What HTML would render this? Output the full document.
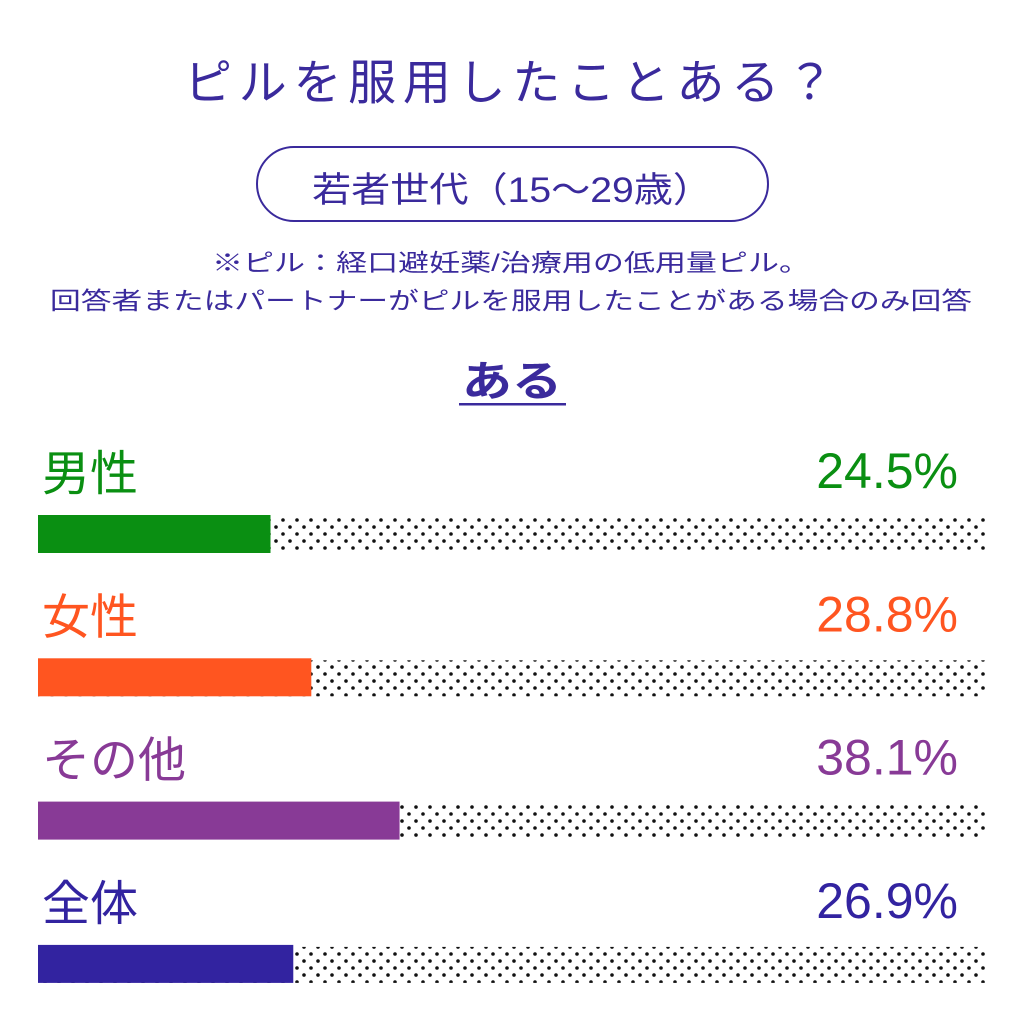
<!DOCTYPE html>
<html lang="ja">
<head>
<meta charset="utf-8">
<style>
  html,body{margin:0;padding:0;background:#fff;}
  svg{display:block;}
  text{font-family:"Liberation Sans","Noto Sans CJK JP",sans-serif;}
</style>
</head>
<body>
<svg id="chart" width="1024" height="1024" viewBox="0 0 1024 1024" xmlns="http://www.w3.org/2000/svg">
  <defs>
    <pattern id="dots" patternUnits="userSpaceOnUse" x="0" y="520" width="14" height="14">
      <circle cx="3" cy="0" r="1.8" fill="#111"/>
      <circle cx="10" cy="7" r="1.8" fill="#111"/>
      <circle cx="3" cy="14" r="1.8" fill="#111"/>
    </pattern>
  </defs>
  <rect width="1024" height="1024" fill="#fff"/>
  <text x="509" y="99" text-anchor="middle" font-size="48" fill="#3a2a9c" textLength="650" lengthAdjust="spacing">ピルを服用したことある？</text>
  <rect x="257" y="147" width="511" height="74" rx="37" fill="none" stroke="#3a2a9c" stroke-width="2"/>
  <text x="512" y="202" text-anchor="middle" font-size="35" fill="#3a2a9c" textLength="400" lengthAdjust="spacingAndGlyphs">若者世代（15〜29歳）</text>
  <text x="511" y="271" text-anchor="middle" font-size="24" fill="#3a2a9c" textLength="598" lengthAdjust="spacingAndGlyphs">※ピル：経口避妊薬/治療用の低用量ピル。</text>
  <text x="511" y="309" text-anchor="middle" font-size="24" fill="#3a2a9c" textLength="922" lengthAdjust="spacingAndGlyphs">回答者またはパートナーがピルを服用したことがある場合のみ回答</text>
  <text x="512" y="396" text-anchor="middle" font-size="42" font-weight="bold" fill="#3a2a9c" textLength="100" lengthAdjust="spacingAndGlyphs">ある</text>
  <rect x="459" y="403" width="107" height="2.5" fill="#3a2a9c"/>
  <g id="bars"></g>
</svg>
<script>
const categories = ["男性", "女性", "その他", "全体"];
const values = [24.5, 28.8, 38.1, 26.9];
const valueLabels = ["24.5%", "28.8%", "38.1%", "26.9%"];
const colors = ["#0a8f12", "#ff5520", "#883a96", "#3223a0"];

const X0 = 38, X1 = 987, ROW0 = 515, ROWSTEP = 143.3, BARH = 38;
function xScale(v){ return X0 + (X1 - X0) * v / 100; }
function rowY(i){ return ROW0 + i * ROWSTEP; }

const NS = "http://www.w3.org/2000/svg";
const g = document.getElementById("bars");
categories.forEach((cat, i) => {
  const y = rowY(i);
  const bg = document.createElementNS(NS, "rect");
  
  
  bg.setAttribute("x", X0); bg.setAttribute("y", y + 2);
  bg.setAttribute("width", X1 - X0); bg.setAttribute("height", BARH - 2);
  bg.setAttribute("fill", "url(#dots)");
  g.appendChild(bg);

  const bar = document.createElementNS(NS, "rect");
  
  
  bar.setAttribute("x", X0); bar.setAttribute("y", y);
  bar.setAttribute("width", xScale(values[i]) - X0); bar.setAttribute("height", BARH);
  bar.setAttribute("fill", colors[i]);
  g.appendChild(bar);

  const lbl = document.createElementNS(NS, "text");
  
  
  lbl.setAttribute("x", 42); lbl.setAttribute("y", y - 25);
  lbl.setAttribute("font-size", "48");
  lbl.setAttribute("fill", colors[i]);
  lbl.textContent = cat;
  g.appendChild(lbl);

  const val = document.createElementNS(NS, "text");
  
  
  val.setAttribute("x", 958); val.setAttribute("y", y - 27);
  val.setAttribute("font-size", "50");
  val.setAttribute("text-anchor", "end");
  val.setAttribute("fill", colors[i]);
  val.textContent = valueLabels[i];
  g.appendChild(val);
});
</script>
</body>
</html>
